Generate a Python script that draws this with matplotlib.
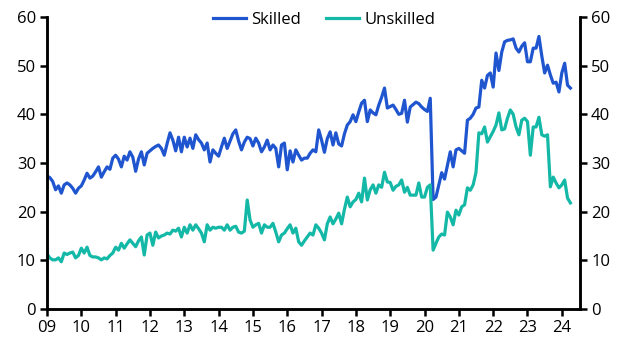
import numpy as np
import matplotlib
matplotlib.use("Agg")
import matplotlib.pyplot as plt

plt.rcParams["font.family"] = ["Open Sans", "DejaVu Sans"]

# monthly readings, Jan 2009 - Apr 2024
skilled = [
    27.3, 27.0, 26.2, 24.5, 25.3, 23.8, 25.5, 25.9, 25.5, 24.8, 23.8, 24.8,  # 2009
    25.3, 26.5, 27.9, 26.9, 27.3, 28.2, 29.2, 27.1, 28.2, 29.2, 28.7, 31.0,  # 2010
    31.6, 30.8, 29.2, 31.4, 30.6, 32.3, 31.2, 28.3, 30.8, 32.3, 29.6, 32.0,  # 2011
    32.5, 33.0, 33.4, 33.7, 33.0, 31.6, 34.0, 36.2, 34.7, 32.5, 35.3, 32.3,  # 2012
    35.3, 33.3, 35.1, 33.0, 35.8, 34.8, 34.1, 32.7, 34.1, 30.2, 32.7, 32.0,  # 2013
    31.4, 33.3, 35.1, 33.0, 34.5, 36.0, 36.8, 34.5, 32.7, 34.3, 35.3, 35.0,  # 2014
    33.5, 35.1, 34.1, 32.3, 33.3, 34.7, 32.7, 33.7, 33.0, 29.2, 33.7, 34.1,  # 2015
    28.6, 32.5, 30.2, 32.7, 31.6, 30.6, 31.0, 31.0, 32.0, 32.7, 32.3, 36.8,  # 2016
    34.7, 32.2, 35.0, 36.4, 33.7, 36.2, 33.9, 33.5, 36.0, 37.8, 38.5, 39.9,  # 2017
    38.5, 40.5, 42.3, 42.9, 38.5, 40.9, 40.3, 39.9, 41.9, 43.5, 45.4, 41.3,  # 2018
    41.6, 41.9, 41.0, 40.0, 40.2, 42.9, 38.4, 41.5, 42.0, 42.5, 42.2, 41.5,  # 2019
    41.0, 40.6, 43.3, 22.5, 23.0, 25.5, 28.0, 26.7, 29.5, 32.3, 29.2, 32.7,  # 2020
    33.0, 32.5, 32.0, 38.8, 39.2, 40.0, 41.3, 41.5, 47.0, 45.4, 48.0, 48.5,  # 2021
    45.6, 52.6, 49.0, 52.8, 54.9, 55.2, 55.3, 55.5, 53.6, 52.8, 54.0, 54.7,  # 2022
    50.8, 50.8, 53.6, 53.6, 56.0, 52.0, 48.5, 50.1, 48.1, 46.4, 46.6, 44.6,  # 2023
    48.5, 50.5, 46.0, 45.4,                                                  # 2024
]
unskilled = [
    11.3, 10.5, 10.1, 10.1, 10.5, 9.7, 11.5, 11.2, 11.5, 11.7, 10.5, 11.0,
    12.5, 11.5, 12.7, 11.0, 10.7, 10.7, 10.5, 10.1, 10.5, 10.3, 11.0, 11.5,
    12.7, 12.1, 13.5, 12.5, 13.4, 14.2, 13.5, 12.8, 14.0, 14.8, 11.1, 15.2,
    15.6, 13.1, 15.8, 14.6, 15.0, 15.2, 15.6, 15.4, 16.2, 16.0, 16.6, 14.8,
    16.8, 15.6, 17.3, 16.2, 17.3, 16.5, 15.6, 13.8, 17.3, 16.2, 16.8, 16.6,
    16.8, 16.8, 16.2, 17.3, 16.2, 16.8, 17.0, 15.8, 15.6, 16.0, 22.4, 18.3,
    16.8, 17.3, 17.6, 15.6, 17.3, 16.8, 16.8, 17.6, 15.8, 13.8, 15.2, 15.6,
    16.5, 17.3, 15.6, 16.6, 13.8, 13.1, 14.0, 14.8, 15.6, 15.2, 17.3, 16.6,
    15.6, 14.2, 17.5, 18.9, 17.5, 18.5, 19.7, 17.5, 20.5, 23.0, 21.0, 22.0,
    22.5, 23.8, 22.0, 26.9, 22.4, 24.5, 25.5, 23.8, 25.5, 25.0, 28.1, 26.1,
    26.0, 24.4, 25.2, 25.5, 26.5, 24.0, 25.0, 23.4, 23.4, 23.4, 25.9, 23.0,
    23.0, 25.0, 25.5, 12.1, 13.5, 14.8, 15.4, 15.2, 19.9, 18.9, 17.3, 20.3,
    19.3, 21.0, 21.4, 24.9, 24.4, 25.5, 28.1, 36.2, 36.0, 37.4, 34.3, 35.4,
    36.5, 37.8, 40.3, 36.8, 37.0, 39.2, 40.9, 40.0, 37.4, 35.8, 38.8, 39.2,
    38.5, 31.6, 37.4, 37.4, 39.4, 35.8, 35.5, 35.8, 25.1, 27.1, 25.9, 24.9,
    25.5, 26.5, 22.8, 21.8,
]
years = list(range(2009, 2025))
year_labels = [str(y)[2:] for y in years]

t = 2009 + np.arange(len(skilled)) / 12.0

fig = plt.figure(figsize=(6.31, 3.57), dpi=100)
ax = fig.add_axes([47 / 631, 1 - 309 / 357, (580 - 47) / 631, (309 - 17) / 357])

ax.plot(t, skilled, color="#1f55cf", lw=2.3, label="Skilled")
ax.plot(t, unskilled, color="#14b8a6", lw=2.3, label="Unskilled")

ax.set_xlim(2009, 2024.53)
ax.set_ylim(0, 60)
ax.set_yticks(range(0, 61, 10))
ax.set_xticks(years)
ax.set_xticklabels(year_labels)

ax2 = ax.twinx()
ax2.set_ylim(0, 60)
ax2.set_yticks(range(0, 61, 10))

for a in (ax, ax2):
    a.spines["top"].set_visible(False)
    for s in ("left", "right", "bottom"):
        a.spines[s].set_linewidth(1.8)
    a.tick_params(axis="both", direction="out", length=5, width=1.8,
                  labelsize=12, colors="black", pad=3)

ax.legend(loc="upper center", bbox_to_anchor=(0.52, 1.07), ncol=2, frameon=False,
          fontsize=12, handlelength=2.0, handletextpad=0.3, columnspacing=1.5)

fig.savefig("out.png", dpi=100)
